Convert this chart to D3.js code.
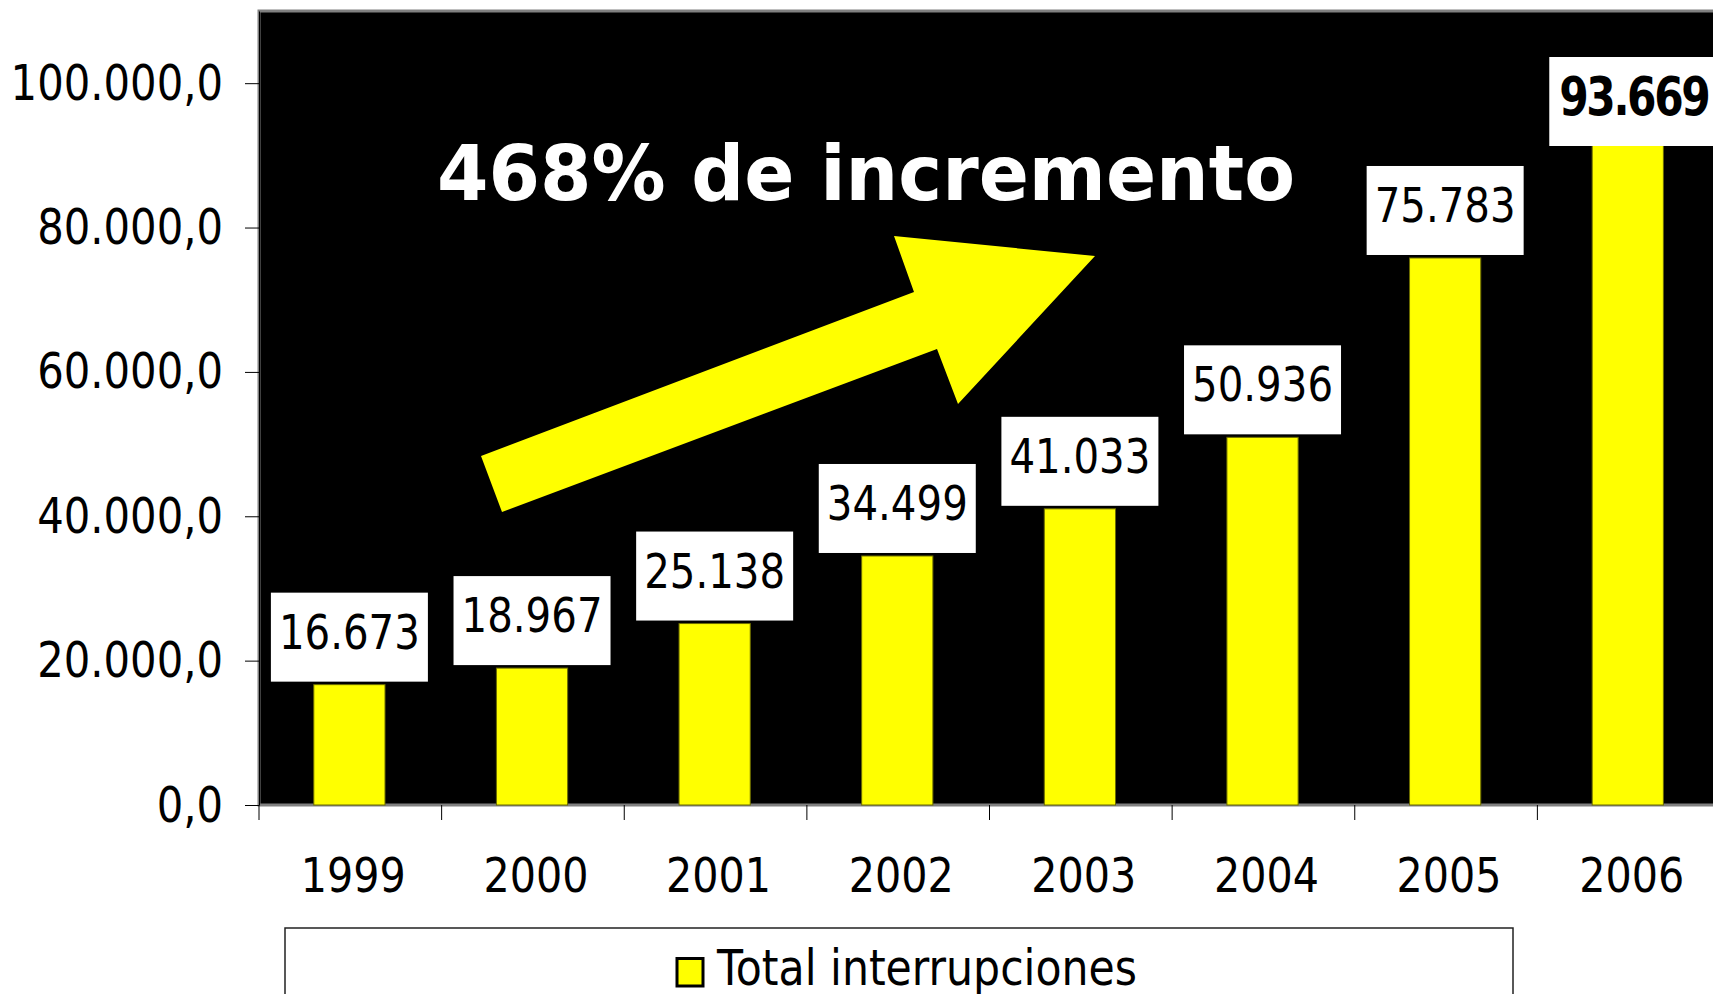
<!DOCTYPE html>
<html>
<head>
<meta charset="utf-8">
<script src="https://cdn.jsdelivr.net/npm/d3@7"></script>
<style>
  body { margin: 0; background: #fff; }
  svg { display: block; font-family: "DejaVu Sans", sans-serif; }
</style>
</head>
<body>
<div id="chart"></div>
<script>
// values
var years = ["1999", "2000", "2001", "2002", "2003", "2004", "2005", "2006"];
var totals = [16673, 18967, 25138, 34499, 41033, 50936, 75783, 93669];
var yTicks = [0, 20000, 40000, 60000, 80000, 100000];
var seriesName = "Total interrupciones";
var headline = "468% de incremento";

var W = 1713, H = 994;
var plot = {left: 259, top: 11, right: 1720, bottom: 805};

var locale = d3.formatLocale({decimal: ",", thousands: ".", grouping: [3], currency: ["", ""]});
var fmtAxis = locale.format(",.1f");
var fmtValue = locale.format(",d");

var svg = d3.select("#chart")
    .append("svg")
    .attr("width", W)
    .attr("height", H);

var x = d3.scaleBand().domain(years).range([plot.left, plot.right]);
var y = d3.scaleLinear().domain([0, 110000]).range([plot.bottom, plot.top]);
var bw = x.bandwidth();

// squeeze text horizontally, keeping its anchor point
function squeeze(sel, k) {
    sel.each(function () {
        var t = d3.select(this);
        var x0 = +t.attr("x") || 0;
        t.attr("x", x0 / k).attr("transform", "scale(" + k + ",1)");
    });
}

// plot background
svg.append("rect")
    .attr("x", plot.left)
    .attr("y", plot.top)
    .attr("width", plot.right - plot.left)
    .attr("height", plot.bottom - plot.top)
    .attr("fill", "#000")
    .attr("stroke", "#808080")
    .attr("stroke-width", 3);

// bars
svg.append("g").selectAll("rect")
    .data(totals)
    .join("rect")
    .attr("x", function (d, i) { return x(years[i]) + bw * 0.3; })
    .attr("y", function (d) { return y(d); })
    .attr("width", bw * 0.39)
    .attr("height", function (d) { return plot.bottom - y(d); })
    .attr("fill", "#ffff00")
    .attr("stroke", "#6b6b00")
    .attr("stroke-width", 1);

// y axis
var yAxis = svg.append("g")
    .attr("transform", "translate(" + plot.left + ",0)")
    .call(d3.axisLeft(y).tickValues(yTicks).tickFormat(fmtAxis)
        .tickSize(14).tickSizeOuter(0).tickPadding(22));
yAxis.select(".domain").attr("stroke", "#000");
yAxis.selectAll("text")
    .attr("font-size", 50)
    .attr("font-family", "DejaVu Sans")
    .attr("fill", "#000")
    .call(squeeze, 0.835);

// x axis ticks at category boundaries
svg.append("g").selectAll("line")
    .data(years)
    .join("line")
    .attr("x1", function (d) { return x(d); })
    .attr("x2", function (d) { return x(d); })
    .attr("y1", plot.bottom)
    .attr("y2", plot.bottom + 15)
    .attr("stroke", "#000");

svg.append("g").selectAll("text")
    .data(years)
    .join("text")
    .attr("x", function (d) { return x(d) + bw / 2 + 3; })
    .attr("y", 892)
    .attr("text-anchor", "middle")
    .attr("font-size", 48)
    .text(function (d) { return d; })
    .call(squeeze, 0.86);

// value labels in white boxes
var last = totals.length - 1;
var labels = svg.append("g").selectAll("g")
    .data(totals)
    .join("g")
    .attr("transform", function (d, i) {
        var top = Math.max(y(d) - 92, 57);
        return "translate(" + (x(years[i]) + bw * 0.3 + bw * 0.195) + "," + top + ")";
    });
labels.append("rect")
    .attr("x", -78.5)
    .attr("width", function (d, i) { return i === last ? 170 : 157; })
    .attr("height", 89)
    .attr("fill", "#fff");
labels.append("text")
    .attr("x", function (d, i) { return i === last ? 6 : 0; })
    .attr("y", function (d, i) { return i === last ? 58 : 56; })
    .attr("text-anchor", "middle")
    .attr("font-size", function (d, i) { return i === last ? 53 : 48; })
    .attr("font-weight", function (d, i) { return i === last ? "bold" : "normal"; })
    .attr("letter-spacing", function (d, i) { return i === last ? -3 : 0; })
    .attr("fill", "#000")
    .text(function (d) { return fmtValue(d); })
    .each(function (d, i) { squeeze(d3.select(this), i === last ? 0.8 : 0.84); });

// headline and arrow
svg.append("text")
    .attr("x", 437)
    .attr("y", 200)
    .attr("font-size", 77)
    .attr("font-weight", "bold")
    .attr("fill", "#fff")
    .attr("textLength", 858)
    .attr("lengthAdjust", "spacingAndGlyphs")
    .text(headline);

var arrow = [[481, 456], [914, 292], [894, 236], [1095, 256], [958, 404], [937, 349], [502, 512]];
svg.append("polygon")
    .attr("points", arrow.map(function (p) { return p.join(","); }).join(" "))
    .attr("fill", "#ffff00");

// legend
var legend = svg.append("g");
legend.append("rect")
    .attr("x", 285)
    .attr("y", 928)
    .attr("width", 1228)
    .attr("height", 100)
    .attr("fill", "#fff")
    .attr("stroke", "#222")
    .attr("stroke-width", 1.5);
legend.append("rect")
    .attr("x", 677)
    .attr("y", 958.5)
    .attr("width", 26)
    .attr("height", 27.5)
    .attr("fill", "#ffff00")
    .attr("stroke", "#000")
    .attr("stroke-width", 3);
legend.append("text")
    .attr("x", 717)
    .attr("y", 985)
    .attr("font-size", 49)
    .attr("fill", "#000")
    .text(seriesName)
    .call(squeeze, 0.87);
</script>
</body>
</html>
